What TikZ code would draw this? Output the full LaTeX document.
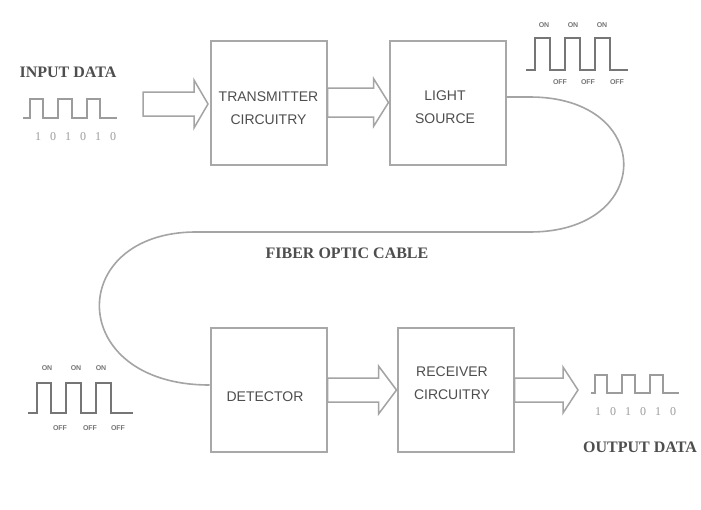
\documentclass[tikz,border=0pt]{standalone}
\usepackage{fontspec}
\setmainfont{Liberation Serif}
\setsansfont{Liberation Sans}
\usetikzlibrary{calc}
\definecolor{boxc}{HTML}{A8A8A8}
\definecolor{linec}{HTML}{A4A4A4}
\definecolor{txtc}{HTML}{4E4E4E}
\definecolor{sigc}{HTML}{767676}
\definecolor{sigl}{HTML}{9C9C9C}
\newcommand\blockarrow[5]{%
  \draw[harrow] let \p1=#1, \p2=#2 in
    (\x1,{\y1+#3}) -- ({\x2-#5},{\y1+#3}) -- ({\x2-#5},{\y1+#4}) -- (\x2,\y1)
    -- ({\x2-#5},{\y1-#4}) -- ({\x2-#5},{\y1-#3}) -- (\x1,{\y1-#3}) -- cycle;}
\begin{document}
\begin{tikzpicture}[x=1pt,y=-1pt,
  block/.style={draw=boxc,line width=2pt,inner sep=0pt,minimum width=116pt,minimum height=124pt},
  btext/.style={font=\sffamily\fontsize{14}{23}\selectfont,text=txtc,align=center,inner sep=0pt},
  ltext/.style={font=\fontsize{16}{16}\selectfont\bfseries,text=txtc,inner sep=0pt},
  digit/.style={font=\fontsize{12}{12}\selectfont,text=sigl,inner sep=0pt},
  onoff/.style={font=\sffamily\fontsize{7}{7}\selectfont\bfseries,text=sigc,inner sep=0pt},
  harrow/.style={draw=linec,line width=1.5pt,line join=miter},
  cable/.style={draw=linec,line width=1.6pt},
  sigdark/.style={draw=sigc,line width=1.8pt,line join=miter},
  siglight/.style={draw=sigl,line width=1.3pt,line join=miter}]
\useasboundingbox (0,0) rectangle (701,509);
\fill[white] (0,0) rectangle (701,509);

% blocks
\node[block] (tx) at (268.5,102.5) {};
\node[block] (ls) at (447.5,102.5) {};
\node[block] (det) at (268.5,390) {};
\node[block] (rx) at (455.5,390) {};

\node[btext] (txt) at (268.5,108.5) {TRANSMITTER\\CIRCUITRY};
\node[btext] (lst) at (445,107.5) {LIGHT\\SOURCE};
\node[btext] (dett) at (265,397) {DETECTOR};
\node[btext] (rxt) at (452,383.5) {RECEIVER\\CIRCUITRY};

% labels
\node[ltext] (inlab) at (68,72) {INPUT DATA};
\node[ltext] (outlab) at (640,447) {OUTPUT DATA};
\node[ltext] (fib) at (347,253) {FIBER OPTIC CABLE};

% input / output digits
\foreach \d [count=\i] in {1,0,1,0,1,0}{
  \node[digit] (di\i) at ({38+15*(\i-1)},137) {\d};
  \node[digit] (do\i) at ({598+15*(\i-1)},412) {\d};
}

% hollow arrows
\coordinate (a1s) at (143,104);
\coordinate (a1e) at (208,104);
\blockarrow{(a1s)}{(a1e)}{12}{24}{14}
\blockarrow{(tx.east)}{(ls.west)}{14.5}{24}{15}
\blockarrow{(det.east)}{(rx.west)}{12}{24}{18}
\coordinate (a4e) at (578,390);
\blockarrow{(rx.east)}{(a4e)}{12}{23}{15}

% fiber optic cable
\coordinate (c1) at (530,97);
\coordinate (c2) at (530,232);
\coordinate (c3) at (196,232);
\draw[cable] ($(ls.east)+(0,-5.5)$) -- (c1) .. controls (655,97) and (655,232) .. (c2)
  -- (c3) .. controls (65,232) and (65,385) .. ($(det.west)+(0,-5)$);

% input wave
\draw[siglight] (23,118) -- (30,118) -- (30,99) -- (43,99) -- (43,118) -- (58,118) -- (58,99)
  -- (72,99) -- (72,118) -- (87,118) -- (87,99) -- (100,99) -- (100,118) -- (117,118);
% output wave
\draw[siglight] (591,393) -- (595,393) -- (595,375) -- (607,375) -- (607,393) -- (622,393) -- (622,375)
  -- (635,375) -- (635,393) -- (650,393) -- (650,375) -- (663,375) -- (663,393) -- (679,393);

% light pulses after source
\draw[sigdark] (526,70) -- (535,70) -- (535,38) -- (550,38) -- (550,70) -- (565,70) -- (565,38)
  -- (580,38) -- (580,70) -- (595,70) -- (595,38) -- (610,38) -- (610,70) -- (628,70);
\foreach \x [count=\i] in {544,573,602}{\node[onoff] (ton\i) at (\x,25) {ON};}
\foreach \x [count=\i] in {560,588,617}{\node[onoff] (tof\i) at (\x,82) {OFF};}

% light pulses before detector
\draw[sigdark] (28,413) -- (37,413) -- (37,383) -- (51,383) -- (51,413) -- (66,413) -- (66,383)
  -- (81,383) -- (81,413) -- (96,413) -- (96,383) -- (111,383) -- (111,413) -- (133,413);
\foreach \x [count=\i] in {47,76,101}{\node[onoff] (bon\i) at (\x,368) {ON};}
\foreach \x [count=\i] in {60,90,118}{\node[onoff] (bof\i) at (\x,428) {OFF};}
\end{tikzpicture}
\end{document}
